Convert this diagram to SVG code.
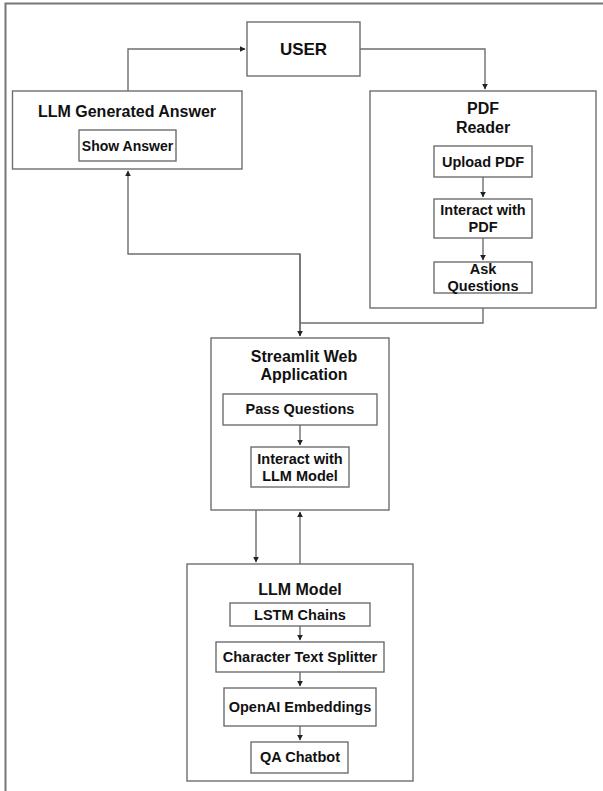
<svg xmlns="http://www.w3.org/2000/svg" width="603" height="791" viewBox="0 0 603 791">
<defs>
<marker id="ah" viewBox="0 0 10 10" refX="9" refY="5" markerWidth="6" markerHeight="6" orient="auto" markerUnits="userSpaceOnUse">
<path d="M0,0 L10,5 L0,10 z" fill="#222"/>
</marker>
<style>
.box{fill:#fff;stroke:#6e6e6e;stroke-width:1.4}
.ln{fill:none;stroke:#6e6e6e;stroke-width:1.4}
.t{font-family:"Liberation Sans",Arial,sans-serif;font-weight:bold;fill:#111;text-anchor:middle}
.h{font-size:16px}
.s{font-size:14.5px}
</style>
</defs>
<rect width="603" height="791" fill="#fff"/>
<path d="M5.5,791 V3.5 H603" fill="none" stroke="#777" stroke-width="2"/>

<g id="user">
<rect class="box" x="247" y="22" width="113" height="54"/>
<text class="t" x="303.5" y="55" style="font-size:17px">USER</text>
</g>

<g id="llm-answer">
<rect class="box" x="12.5" y="91" width="229.5" height="78"/>
<text class="t h" x="127" y="117">LLM Generated Answer</text>
<g id="show-answer">
<rect class="box" x="79" y="130" width="97" height="31"/>
<text class="t" x="127.5" y="151" style="font-size:14px">Show Answer</text>
</g>
</g>

<g id="pdf-reader">
<rect class="box" x="370" y="91" width="226" height="217"/>
<text class="t h" x="483" y="114">PDF</text>
<text class="t h" x="483" y="133">Reader</text>
<g id="upload-pdf">
<rect class="box" x="434" y="146" width="98" height="31"/>
<text class="t s" x="483" y="167">Upload PDF</text>
</g>
<g id="interact-pdf">
<rect class="box" x="434" y="199" width="98" height="39"/>
<text class="t s" x="483" y="215">Interact with</text>
<text class="t s" x="483" y="232">PDF</text>
</g>
<g id="ask-questions">
<rect class="box" x="434" y="262" width="98" height="31"/>
<text class="t s" x="483" y="274">Ask</text>
<text class="t s" x="483" y="291">Questions</text>
</g>
</g>

<g id="streamlit">
<rect class="box" x="211" y="338" width="178" height="172"/>
<text class="t h" x="304" y="362">Streamlit Web</text>
<text class="t h" x="304" y="380">Application</text>
<g id="pass-questions">
<rect class="box" x="223" y="394" width="154" height="31"/>
<text class="t s" x="300" y="414">Pass Questions</text>
</g>
<g id="interact-llm">
<rect class="box" x="251" y="447" width="98" height="40"/>
<text class="t s" x="300" y="464">Interact with</text>
<text class="t s" x="300" y="481">LLM Model</text>
</g>
</g>

<g id="llm-model">
<rect class="box" x="187" y="564" width="226" height="217"/>
<text class="t h" x="300" y="595">LLM Model</text>
<g id="lstm">
<rect class="box" x="230" y="603" width="140" height="23"/>
<text class="t s" x="300" y="620">LSTM Chains</text>
</g>
<g id="splitter">
<rect class="box" x="216" y="642" width="168" height="30"/>
<text class="t s" x="300" y="662">Character Text Splitter</text>
</g>
<g id="embeddings">
<rect class="box" x="224" y="688" width="152" height="38"/>
<text class="t s" x="300" y="712">OpenAI Embeddings</text>
</g>
<g id="qa-chatbot">
<rect class="box" x="251" y="742" width="97" height="31"/>
<text class="t s" x="300" y="762">QA Chatbot</text>
</g>
</g>

<g id="connectors">
<path class="ln" d="M128,91 V49 H245" marker-end="url(#ah)"/>
<path class="ln" d="M360,49 H485 V89" marker-end="url(#ah)"/>
<path class="ln" d="M483,177 V197" marker-end="url(#ah)"/>
<path class="ln" d="M483,238 V260" marker-end="url(#ah)"/>
<path class="ln" d="M483,308 V323 H300"/>
<path class="ln" d="M300,336 V254 H128 V171" marker-end="url(#ah)"/>
<path class="ln" d="M300,254 V336" marker-end="url(#ah)"/>
<path class="ln" d="M300,425 V445" marker-end="url(#ah)"/>
<path class="ln" d="M256,510 V562" marker-end="url(#ah)"/>
<path class="ln" d="M300,564 V512" marker-end="url(#ah)"/>
<path class="ln" d="M300,626 V640" marker-end="url(#ah)"/>
<path class="ln" d="M300,672 V686" marker-end="url(#ah)"/>
<path class="ln" d="M300,726 V740" marker-end="url(#ah)"/>
</g>
</svg>
